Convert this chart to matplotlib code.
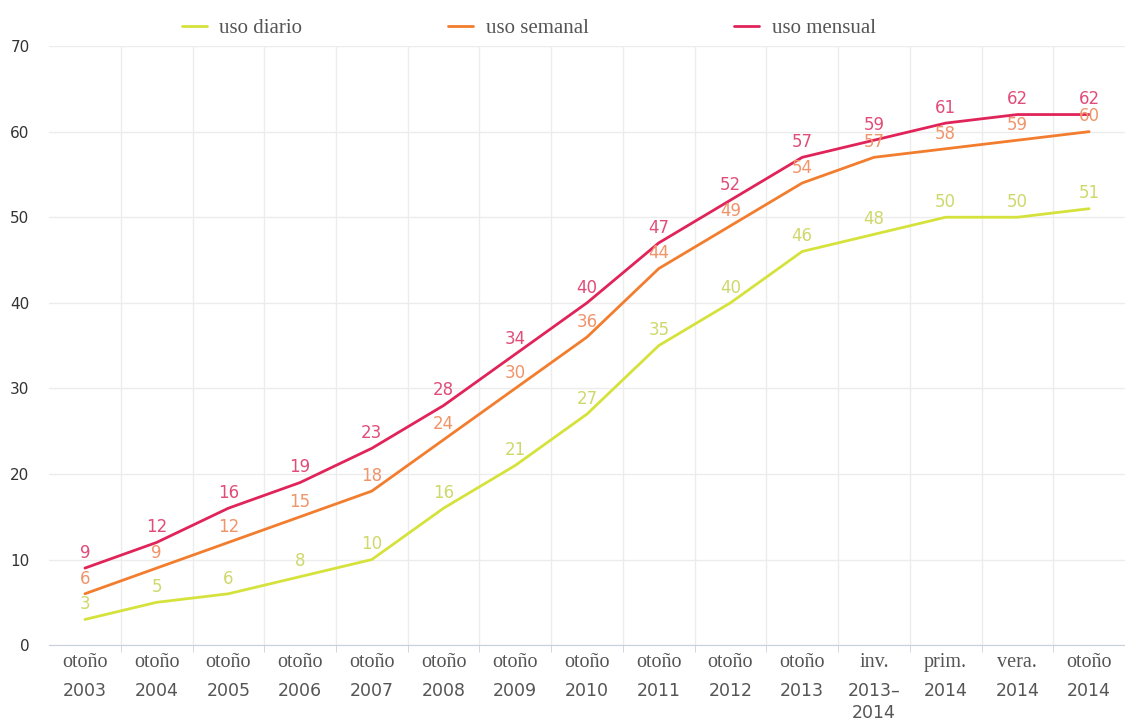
import matplotlib.pyplot as plt
import numpy as np

# ---------------------------------------------------
# Datos
# ---------------------------------------------------
PERIODOS = ['otoño', 'otoño', 'otoño', 'otoño', 'otoño', 'otoño', 'otoño', 'otoño',
            'otoño', 'otoño', 'otoño', 'inv.', 'prim.', 'vera.', 'otoño']
ANIOS = ['2003', '2004', '2005', '2006', '2007', '2008', '2009', '2010',
         '2011', '2012', '2013', '2013–\n2014', '2014', '2014', '2014']
USO_DIARIO = [3, 5, 6, 8, 10, 16, 21, 27, 35, 40, 46, 48, 50, 50, 51]
USO_SEMANAL = [6, 9, 12, 15, 18, 24, 30, 36, 44, 49, 54, 57, 58, 59, 60]
USO_MENSUAL = [9, 12, 16, 19, 23, 28, 34, 40, 47, 52, 57, 59, 61, 62, 62]
# ---------------------------------------------------

SERIES = [
    ('uso diario', USO_DIARIO, '#d6e23c', '#cfd86a'),
    ('uso semanal', USO_SEMANAL, '#f27d2e', '#f0946a'),
    ('uso mensual', USO_MENSUAL, '#e0245a', '#e04d78'),
]


def grafico():
    fig = plt.figure(figsize=(11.25, 7.2), dpi=100)
    ax = fig.add_axes([0.0436, 0.104, 0.9564, 0.832])
    x = np.arange(len(PERIODOS))

    for nombre, valores, color, color_txt in SERIES:
        ax.plot(x, valores, color=color, lw=2.0, label=nombre, solid_capstyle='round')
        for xi, v in zip(x, valores):
            ax.annotate(str(v), (xi, v), xytext=(0, 4.5), textcoords='offset points',
                        ha='center', va='bottom', fontsize=12, color=color_txt,
                        family='DejaVu Sans')

    ax.set_xlim(-0.5, len(PERIODOS) - 0.5)
    ax.set_ylim(0, 70)
    ax.set_yticks(range(0, 71, 10))
    ax.set_xticks(x)
    ax.set_xticklabels(PERIODOS, family='Liberation Serif', fontsize=14.5, color='#555555')
    ax.set_xticks(x[:-1] + 0.5, minor=True)
    ax.tick_params(axis='x', which='major', length=0, pad=6)
    ax.tick_params(axis='x', which='minor', length=5, color='#c8d0dc')
    ax.tick_params(axis='y', length=0, pad=14, labelsize=11, labelcolor='#333333')

    # años debajo de cada periodo
    trans = ax.get_xaxis_transform()
    for xi, anio in zip(x, ANIOS):
        ax.text(xi, -0.062, anio, transform=trans, ha='center', va='top',
                fontsize=12.5, color='#555555', linespacing=1.25)

    ax.grid(axis='y', color='#ececec', lw=1)
    ax.grid(axis='x', which='minor', color='#ececec', lw=1)
    ax.set_axisbelow(True)
    for lado in ['top', 'right', 'left']:
        ax.spines[lado].set_visible(False)
    ax.spines['bottom'].set_color('#c8d0dc')

    fig.legend(loc='upper center', bbox_to_anchor=(0.47, 1.0), ncol=3, frameon=False,
               prop={'family': 'Liberation Serif', 'size': 15}, handlelength=1.2,
               columnspacing=7.0, handletextpad=0.6, labelcolor='#555555')

    fig.savefig('out.png', dpi=100)


def main():
    grafico()


if __name__ == '__main__':
    main()
